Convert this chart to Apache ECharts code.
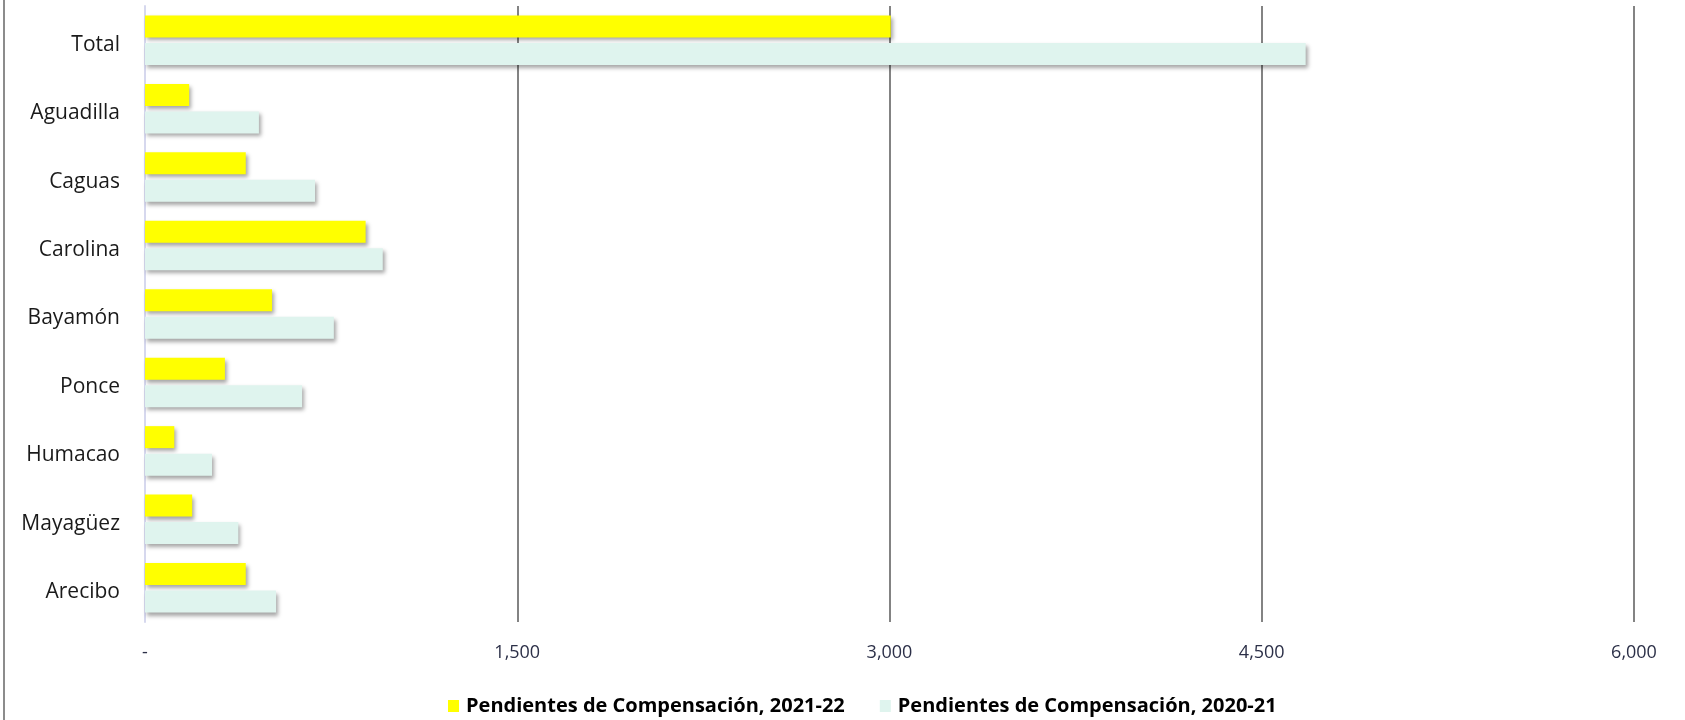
<!DOCTYPE html>
<html>
<head>
<meta charset="utf-8">
<script src="https://cdn.jsdelivr.net/npm/echarts@6/dist/echarts.min.js"></script>
<style>
html,body{margin:0;padding:0;background:#fff;}
#chart{width:1685px;height:720px;}
</style>
</head>
<body>
<div id="chart"></div>
<script>
const categories = ['Total', 'Aguadilla', 'Caguas', 'Carolina', 'Bayamón', 'Ponce', 'Humacao', 'Mayagüez', 'Arecibo'];
const series2122 = [3005, 178, 406, 889, 512, 322, 118, 190, 406];
const series2021 = [4677, 459, 685, 958, 761, 633, 270, 376, 528];
const seriesNames = ['Pendientes de Compensación, 2021-22', 'Pendientes de Compensación, 2020-21'];
const xTicks = [0, 1500, 3000, 4500, 6000];

const FONT = '"Open Sans", "Noto Sans", sans-serif';
const chart = echarts.init(document.getElementById('chart'), null, {renderer: 'canvas'});
const shadow = {shadowColor: 'rgba(0,0,0,0.35)', shadowBlur: 4, shadowOffsetX: 2, shadowOffsetY: 3};

chart.setOption({
  backgroundColor: '#ffffff',
  animation: false,
  graphic: [{
    type: 'line', shape: {x1: 4, y1: 0, x2: 4, y2: 720},
    style: {stroke: '#8c8c8c', lineWidth: 2}
  }],
  grid: {left: 145, right: 51, top: 6, bottom: 98, containLabel: false},
  legend: {
    left: 443, top: 691,
    itemWidth: 11, itemHeight: 12, itemGap: 35,
    icon: 'rect',
    textStyle: {fontFamily: FONT, fontSize: 20, fontWeight: 'bold', color: '#000', padding: [0, 0, 0, 2]},
    data: seriesNames
  },
  xAxis: {
    type: 'value',
    min: xTicks[0], max: xTicks[xTicks.length - 1], interval: xTicks[1] - xTicks[0],
    axisLine: {show: false},
    axisTick: {show: false},
    splitLine: {show: true, showMinLine: false, lineStyle: {color: '#5a5a5a', width: 1.5}},
    axisLabel: {
      margin: 22, fontFamily: FONT, fontSize: 18, color: '#2c3048',
      formatter: v => v === 0 ? '-' : v.toLocaleString('en-US')
    }
  },
  yAxis: {
    type: 'category', data: categories, inverse: true,
    axisLine: {show: true, lineStyle: {color: '#d6d8ee', width: 2}},
    axisTick: {show: false},
    axisLabel: {margin: 25, fontFamily: FONT, fontSize: 21, color: '#1a1a1a', verticalAlign: 'top', lineHeight: 9}
  },
  series: [
    {name: seriesNames[0], type: 'bar', data: series2122, barWidth: 22, barGap: '25%',
     itemStyle: Object.assign({color: '#ffff00'}, shadow)},
    {name: seriesNames[1], type: 'bar', data: series2021, barWidth: 22, barGap: '25%',
     itemStyle: Object.assign({color: '#dff4ee'}, shadow)}
  ]
});
</script>
</body>
</html>
